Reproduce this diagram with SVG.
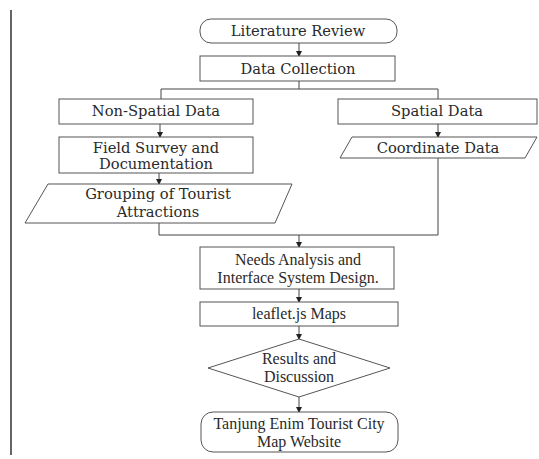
<svg xmlns="http://www.w3.org/2000/svg" width="539" height="459" viewBox="0 0 539 459">
<defs>
<marker id="ah" markerWidth="6" markerHeight="6" refX="5" refY="3" orient="auto" markerUnits="userSpaceOnUse">
<path d="M0,0 L6,3 L0,6 Z" fill="#222"/>
</marker>
<style>
.box{fill:#fff;stroke:#555;stroke-width:1}
.ln{fill:none;stroke:#444;stroke-width:1}
.t1{font-family:"DejaVu Serif","Liberation Serif",serif;font-size:14.7px;fill:#2a2a2a;text-anchor:middle}
.t2{font-family:"Liberation Serif",serif;font-size:16px;fill:#2a2a2a;text-anchor:middle}
</style>
</defs>
<rect width="539" height="459" fill="#fff"/>
<line x1="11" y1="10" x2="11" y2="455" stroke="#333" stroke-width="1.5"/>
<g id="connectors">
<path class="ln" d="M299,43 V56" marker-end="url(#ah)"/>
<path class="ln" d="M299,81 V89 M161,99 V89 H438 V99"/>
<path class="ln" d="M160,124 V137" marker-end="url(#ah)"/>
<path class="ln" d="M438,124 V137" marker-end="url(#ah)"/>
<path class="ln" d="M159,173 V184" marker-end="url(#ah)"/>
<path class="ln" d="M159,223 V235 H438 V158"/>
<path class="ln" d="M299,235 V247" marker-end="url(#ah)"/>
<path class="ln" d="M299,289 V302" marker-end="url(#ah)"/>
<path class="ln" d="M299,326 V339" marker-end="url(#ah)"/>
<path class="ln" d="M299,397 V412" marker-end="url(#ah)"/>
</g>
<g id="literature">
<rect class="box" x="200" y="19" width="197" height="24" rx="11"/>
<text class="t1" x="298" y="36">Literature Review</text>
</g>
<g id="datacollection">
<rect class="box" x="200" y="56" width="195" height="25"/>
<text class="t1" x="298" y="74">Data Collection</text>
</g>
<g id="nonspatial">
<rect class="box" x="59" y="99" width="194" height="25"/>
<text class="t1" x="156" y="116">Non-Spatial Data</text>
</g>
<g id="spatial">
<rect class="box" x="338" y="99" width="199" height="25"/>
<text class="t1" x="437" y="116">Spatial Data</text>
</g>
<g id="fieldsurvey">
<rect class="box" x="59" y="137" width="194" height="36"/>
<text class="t1" x="156" y="153">Field Survey and</text>
<text class="t1" x="156" y="169">Documentation</text>
</g>
<g id="coordinate">
<polygon class="box" points="352,137 537,137 525,158 340,158"/>
<text class="t1" x="438" y="153">Coordinate Data</text>
</g>
<g id="grouping">
<polygon class="box" points="48,184 292,184 275,223 25,223"/>
<text class="t1" x="158" y="199">Grouping of Tourist</text>
<text class="t1" x="158" y="217">Attractions</text>
</g>
<g id="needs">
<rect class="box" x="200" y="247" width="194" height="42"/>
<text class="t2" x="298" y="265">Needs Analysis and</text>
<text class="t2" x="298" y="283">Interface System Design.</text>
</g>
<g id="leaflet">
<rect class="box" x="200" y="302" width="198" height="24"/>
<text class="t2" x="299" y="319">leaflet.js Maps</text>
</g>
<g id="results">
<polygon class="box" points="299,339 390,368 299,397 208,368"/>
<text class="t2" x="299" y="364">Results and</text>
<text class="t2" x="299" y="382">Discussion</text>
</g>
<g id="website">
<rect class="box" x="201" y="412" width="197" height="40" rx="12"/>
<text class="t2" x="299" y="429">Tanjung Enim Tourist City</text>
<text class="t2" x="299" y="447">Map Website</text>
</g>
</svg>
